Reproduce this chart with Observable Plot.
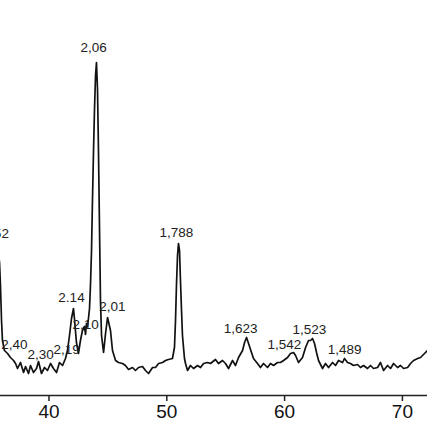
<!DOCTYPE html>
<html>
<head>
<meta charset="utf-8">
<script src="https://cdn.jsdelivr.net/npm/d3@7"></script>
<script src="https://cdn.jsdelivr.net/npm/@observablehq/plot@0.6"></script>
<style>
  html, body { margin: 0; padding: 0; background: #fff; }
  #chart svg { display: block; }
</style>
</head>
<body>
<div id="chart"></div>
<script>
// 2θ (degrees) positions of the trace
const twoTheta = [
  35.63, 35.80, 35.88, 35.97, 36.05, 36.22, 36.48, 36.73, 36.99, 37.16,
  37.33, 37.58, 37.84, 38.01, 38.26, 38.43, 38.68, 38.94, 39.11, 39.36,
  39.62, 39.87, 40.13, 40.38, 40.64, 40.89, 41.15, 41.40, 41.57, 41.74,
  41.91, 42.08, 42.16, 42.33, 42.50, 42.67, 42.84, 43.01, 43.10, 43.18,
  43.27, 43.35, 43.44, 43.52, 43.61, 43.69, 43.78, 43.86, 43.95, 44.03,
  44.12, 44.20, 44.29, 44.37, 44.46, 44.63, 44.80, 44.97, 45.22, 45.39,
  45.65, 45.90, 46.24, 46.49, 46.75, 47.09, 47.34, 47.60, 47.94, 48.19,
  48.45, 48.79, 49.04, 49.30, 49.64, 49.89, 50.14, 50.48, 50.65, 50.74,
  50.82, 50.91, 50.99, 51.08, 51.16, 51.25, 51.33, 51.50, 51.59, 51.76,
  52.01, 52.27, 52.61, 52.86, 53.12, 53.46, 53.71, 54.13, 54.39, 54.73,
  54.98, 55.24, 55.58, 55.83, 56.09, 56.43, 56.60, 56.77, 56.94, 57.19,
  57.36, 57.70, 57.95, 58.21, 58.55, 58.80, 59.06, 59.40, 59.65, 59.91,
  60.25, 60.50, 60.76, 60.93, 61.18, 61.52, 61.78, 62.03, 62.20, 62.37,
  62.54, 62.71, 62.88, 63.22, 63.47, 63.73, 64.07, 64.32, 64.58, 64.92,
  65.08, 65.34, 65.59, 65.85, 66.19, 66.44, 66.70, 67.04, 67.29, 67.55,
  67.89, 68.14, 68.40, 68.74, 68.99, 69.25, 69.59, 69.84, 70.10, 70.44,
  70.69, 70.95, 71.29, 71.54, 71.96, 72.22
];
// Intensity (arbitrary units) of the trace
const intensity = [
  150, 133, 110, 75, 55, 45, 42, 38, 35, 32,
  27, 33, 23, 29, 22, 30, 23, 27, 34, 22,
  28, 25, 32, 27, 23, 33, 30, 37, 45, 60,
  77, 87, 77, 53, 42, 55, 65, 69, 61, 72,
  69, 77, 87, 110, 145, 195, 245, 285, 320, 333,
  305, 245, 165, 95, 60, 43, 62, 78, 65, 45,
  35, 33, 32, 30, 26, 28, 25, 28, 29, 25,
  22, 28, 28, 32, 33, 35, 36, 37, 48, 75,
  110, 140, 152, 145, 115, 85, 60, 37, 32, 25,
  30, 27, 30, 28, 32, 33, 32, 36, 32, 35,
  32, 27, 35, 30, 38, 45, 53, 58, 52, 43,
  37, 32, 28, 32, 28, 32, 30, 33, 33, 35,
  38, 42, 43, 40, 33, 38, 48, 55, 55, 57,
  52, 43, 35, 27, 32, 28, 33, 30, 35, 33,
  37, 33, 32, 30, 31, 28, 30, 27, 30, 27,
  28, 33, 25, 30, 27, 32, 28, 30, 27, 28,
  32, 35, 37, 38, 43, 46
];
// d-spacing annotations
const labelText = ["2,52", "2,06", "1,788", "2.14", "2,10", "2,01", "2,40", "2,30", "2,19", "1,623", "1,542", "1,523", "1,489"];
const labelTheta = [35.48, 43.78, 50.82, 41.91, 43.10, 45.39, 37.07, 39.28, 41.49, 56.26, 59.99, 62.11, 65.09];
const labelIntensity = [162, 348, 163, 98, 71, 89, 51, 41, 46, 67, 51, 66, 46];
// x axis ticks
const tickValues = [40, 50, 60, 70];

const trace = twoTheta.map((t, k) => ({t, i: intensity[k]}));
const labels = labelText.map((s, k) => ({s, t: labelTheta[k], i: labelIntensity[k]}));

const chart = Plot.plot({
  width: 427,
  height: 430,
  marginTop: 0,
  marginBottom: 35,
  marginLeft: 0,
  marginRight: 0,
  style: {fontFamily: "'Liberation Sans', Arial, sans-serif", background: "#fff", color: "#111", overflow: "visible"},
  x: {domain: [35.883, 72.13], label: null},
  y: {domain: [0, 395], axis: null},
  marks: [
    Plot.line(trace, {x: "t", y: "i", stroke: "#111", strokeWidth: 1.7, clip: true, curve: "linear"}),
    Plot.ruleY([0], {stroke: "#222", strokeWidth: 1.6}),
    Plot.axisX({ticks: tickValues, tickSize: 6, tickPadding: 3, fontSize: 19, stroke: "#222", strokeWidth: 1.5, label: null, tickFormat: d => String(d)}),
    Plot.text(labels, {x: "t", y: "i", text: "s", fontSize: 13.5, fill: "#222"})
  ]
});
document.getElementById("chart").appendChild(chart);
</script>
</body>
</html>
